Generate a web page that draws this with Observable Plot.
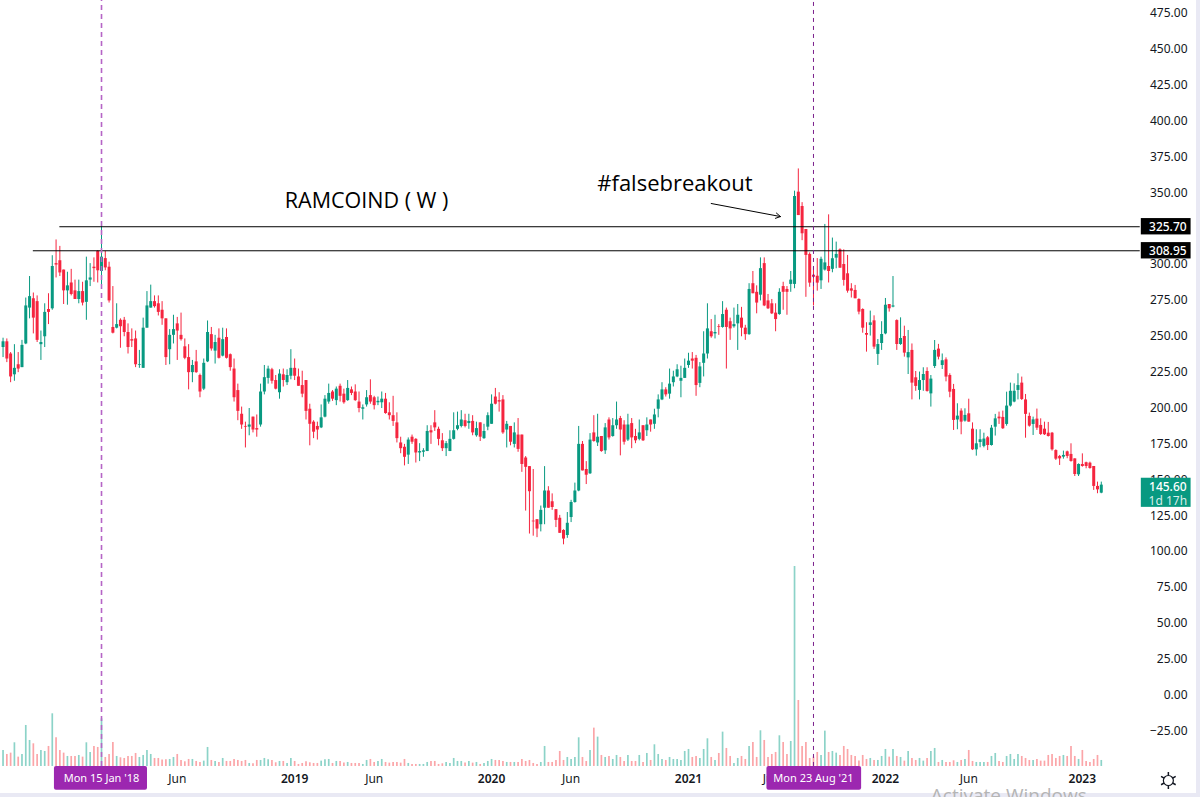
<!DOCTYPE html>
<html><head><meta charset="utf-8">
<script src="https://cdn.jsdelivr.net/npm/d3@7"></script>
<script src="https://cdn.jsdelivr.net/npm/@observablehq/plot@0.6"></script>
<style>
html,body{margin:0;padding:0;background:#e9e9f4;width:1200px;height:797px;overflow:hidden}
svg{display:block;overflow:visible;background:#fff}
</style></head><body><div id="chart"></div>
<script>
const firstWeek = "2017-07-17";
const open = [
241.5,245.5,237,222.5,229.5,227.5,244,269,275.5,273.5,
243.5,249,268,268.5,300,302,295.5,281,286.5,281,
275,280.5,273,288.5,297.5,308.5,294.5,303.5,297.5,255.5,
255,260.5,260.5,252,247,247.5,229,227,255,269,
273.5,272,267.5,261.5,240,250,258,250,242,234.5,
224,231.5,222,212.5,231.5,250.5,239,248,235.5,248.5,
236.5,226.5,211.5,195,186.5,186,193,185,187.5,210.5,
220,226,218.5,210,
222.5,217,221.5,227,221,215,218.5,198.5,189.5,186.5,
185.5,193,203.5,210.5,204.5,214.5,209,204.5,212,210.5,
203.5,198.5,201.5,208,206.5,203,203,205.5,196,194,
189,175,172,166.5,179,177.5,168,168.5,169,183.5,
189,184.5,176.5,171,169,177.5,184.5,186.5,190.5,188.5,
190,180,189,178,186,188,207,204.5,205,184,
186.5,174,180.5,180.5,164.5,158.5,120.5,121.5,118,129.5,
141.5,
134,128.5,122.5,114,110.5,123,133.5,141.5,174,156.5,
153.5,182,175,179.5,169.5,191,179.5,187,192,187.5,
177,188.5,179.5,177.5,187,183.5,191,188,198.5,205,
212,209,217,221,218,220,229,233.5,234,216.5,
230.5,237,252.5,251,256,255.5,267.5,259.5,256,258,
262,255,250.5,286,280,278,300,274,272,265.5,
264.5,284,282,285.5,
285.5,349.8,339.8,323.8,306.4,291.9,291.2,288,295.5,298,
296,303.8,309.6,299.4,292.9,282.4,281.3,275,268,251.3,
256.9,260.1,236.7,244.3,251,271.5,269.7,260.3,243.6,249.2,
234.3,239.5,220.4,211.6,218.5,224.8,209.2,228.3,240.4,229,
232.9,222,212.3,191,197.2,190.2,195.3,184.6,170.2,175.3,
172.6,178.6,173.2,186,193,192.8,187.9,200.7,203.5,211.6,
216.7,205,193.5,187.9,191.6,187.2,184.6,181.8,181.8,169.7,
165.6,165.1,168.8,167,163.9,152.8,160,161.2,160.9,158.6,
144.7,140];
const high = [
248,247.5,238,243.5,238,246.5,276,291,279.5,277.5,
253,272,279,305.5,316.5,312,295.5,294,296,288.5,
288.5,287,304.5,300,304,309,325.7,308.5,301,284,
272,261.5,262.5,258,254.5,253,239.5,262,280.5,285,
277.5,277.5,273.5,261.5,254,264,262.5,265.5,247.5,243.5,
232.5,239.5,223,233.5,260,255.5,250,254.5,255,254.5,
237,233.5,216,200,189.5,199,193,194.5,216,229,
228.5,227,222,226,
226.5,226,240,233.5,226.5,225,218.5,202,190.5,189.5,
201.5,208,216,211.5,214,216,212.5,218.5,214,215.5,
210.5,201.5,211.5,219,207.5,207,210.5,209.5,203,207.5,
196,179,174,178.5,180.5,178,174.5,171,187,187,
197.5,186,181.5,176,183.5,196,196.5,197.5,195,195,
194,189.5,189,188,196,208.5,213,210,208,190,
186.5,189,192,180.5,165.5,158.5,156.5,121.5,131,158.5,
144.5,
139.5,128.5,124.5,114.5,126.5,135,147,186.5,176,162,
181.5,194,195,179.5,188.5,192.5,192,203.5,193.5,190.5,
195,192,184.5,191,187,192.5,191,198.5,208.5,217,
213.5,226.5,225,229.5,228.5,233.5,237.5,238,236,231,
252.5,272,261,264,257.5,273.5,269,262,269,271.5,
269.5,257,286,294.5,284.5,304,304,278.5,275,272,
282.5,287,284,294.5,
350.5,366,342.5,323.8,307.5,297.5,303.5,304.5,327.3,334,
317.8,315,310.3,309.6,305.7,286,284.8,275.5,268.5,258.8,
266.9,263.6,247.1,259.5,275.7,271.5,291,260.8,262.2,256.4,
253.4,244,224.8,224.4,227.4,227.4,222,246.4,243.7,237,
234.3,223.2,215.8,202.3,198.8,198.8,205.5,189,184.2,184.2,
181.8,179.5,187.2,194.9,196.5,197.2,210.4,216.7,216.2,223.2,
220.9,208.8,195.8,193,198.6,191.8,189.5,189.3,182.3,170.2,
166.3,169.3,169.3,174.4,163.9,160.4,167.4,161.6,161.6,158.6,
147.7,147.7];
const low = [
234.5,231,217,218,224,227.5,243.5,261.5,251,245,
232.5,241.5,257.5,267.5,290,291,271.5,271,277.5,275,
272,270.5,260.5,284,287,286.5,282.5,295,272.5,251,
254.5,241,249,237,241.5,227.5,227,227,255,269,
269,263.5,257,229,229.5,244,232.5,246,233,212,
217,223.5,206.5,211.5,231,239,230,233.5,235,233.5,
225,203.5,190.5,184.5,171.5,180,182,179,186,208.5,
216,216,212,205.5,
214,215,219,218.5,214.5,206.5,191,173,178,177,
185,192.5,202,204,201,203.5,202,204,208,204,
196,191,200,202,198,201,199,195,191,186.5,
175,167.5,159,160,174,161,162,165,169,174,
183,173,169,165.5,169,177,183.5,185.5,185.5,184.5,
180,179,176,177.5,183.5,188,201.5,196.5,181,171.5,
173,171.5,168.5,154.5,127.5,111.5,110,109,113,118,
129.5,
128,116,112,104,108.5,119.5,133,141,155.5,146,
153,175.5,172.5,168.5,167,177,179,184.5,166,173.5,
176,171,174.5,176.5,176,179.5,182.5,184.5,192.5,204.5,
207,205.5,214,220.5,206.5,220,227,226.5,207.5,213.5,
221,233.5,248,247.5,250,255,226.5,246.5,255,239.5,
249,246.5,250,279,265,274,270,268,264.5,252.5,
264,267.5,264,280,
282.5,333.5,316,276.5,283.5,270.5,280.8,282,294.8,286.5,
293.6,296.4,296.8,284.3,279.4,276,275.5,264.3,251.5,238.3,
249.5,240.2,229,239.5,250.4,266.2,269.2,239.5,243,234.8,
222.7,205,211,205,211,210.4,200,226.9,232.9,226.2,
217.6,206.5,183.7,184.2,180.7,189.5,189.5,169.7,165.8,171.6,
171.6,169.7,172.8,179.8,187.9,184.4,186.7,200,203,205,
204.6,178.3,186,180.2,183.7,180.2,180.2,179.1,169.3,162.8,
159.3,163.7,164,161.6,151.6,151.6,158.1,157,156.7,141.9,
139.6,139.6];
const close = [
245.5,233.5,221,227,226.5,243,270.5,277,262,246.5,
245,266,266,298,299,293.5,281,284.5,278.5,275,
280.5,272.5,288,290,296.5,295,304.5,297,274,251.5,
257.5,256,252,241.5,246,229.5,229.5,255,270.5,273.5,
270,266,261.5,234.5,250,254,253,247,234,224,
229,224,210.5,230.5,252,240.5,245,234,247,234,
227.5,206.5,197,187.5,186,187.5,184,184,210.5,220.5,
226.5,218,212.5,223,
218.5,222,227,221.5,214.5,209,197,188,182.5,184,
192.5,205.5,209.5,205.5,212.5,207.5,203,213,209.5,204.5,
199,199.5,206.5,203.5,201,204,205.5,195.5,194,190,
178,171,165,177,175.5,168,169,169.5,183,182,
185.5,177.5,171,174.5,177.5,183.5,187,191,186.5,190,
182,185,179,183,194,202,202,203.5,182,188,
175.5,182,170.5,160,158,141,120,115,128,141.5,
129.5,
130,121,112,108,119,133.5,141.5,174,155.5,152.5,
177,176,179,169,185.5,178.5,187,191,184,175.5,
187.5,178.5,176.5,182,176.5,187.5,187.5,194.5,205,212,
208.5,216,221,226,220,227,232,232,215,228,
237,254.5,249,252,255.5,264.5,255.5,254.5,257.5,264,
255,250.5,282,279,272.5,296.5,270.5,268.5,265,261,
280,280,280,288.5,
346.8,333.5,320.8,305.7,286.4,290.5,286.4,303,300.5,294.5,
303.4,306.4,296.8,288.3,280.8,280.8,275.5,266.2,255,250.1,
258.7,241.8,243.6,250.6,271,268.5,270.5,243.6,247.8,237.6,
238,216.7,214.4,218.5,222.7,210.9,219.5,239.5,234.8,232.3,
220.9,210.4,190.7,193.7,189.5,194.2,189.5,170.2,174.4,177.2,
177.7,173.2,185.3,191.8,191.8,184.9,200.7,211,211,215,
205.3,194.9,186.7,191.1,185.3,180.9,180.7,179.5,170.2,163.7,
163.9,166.3,165.6,162.1,153,160,158.6,158.6,157.2,144.7,
142.3,145.6];
// volume in arbitrary units
const volume = [
48,36,40,71,28,36,123,78,68,36,48,45,60,158,86,48,40,30,30,30,33,28,71,42,60,57,
143,27,36,72,30,26,24,30,30,39,27,33,48,36,24,24,19,20,21,27,36,18,14,21,21,15,12,16,57,18,
15,12,24,15,15,21,18,15,18,9,8,18,18,24,20,18,11,15,15,9,24,15,6,9,14,11,9,9,16,20,
21,9,15,15,10,12,9,9,9,6,18,21,12,15,21,12,10,12,12,
10,21,9,6,6,6,6,12,15,15,6,8,12,9,24,15,15,10,15,10,12,6,9,15,21,18,18,15,12,12,12,12,21,15,18,9,6,12,
60,12,12,18,45,18,27,21,27,86,27,15,48,115,88,33,27,30,21,33,27,15,33,15,15,33,12,39,18,65,36,21,18,27,21,21,18,
45,51,27,30,24,51,83,27,18,39,103,54,30,9,24,30,21,60,72,27,107,78,27,36,42,92,72,36,75,600,198,
60,72,24,28,42,33,106,42,45,40,33,60,51,33,30,16,33,21,24,18,18,30,51,28,51,30,27,16,45,24,18,24,16,24,45,54,
12,18,12,12,17,12,18,21,48,15,12,12,12,12,30,39,15,12,30,36,21,36,30,24,18,18,21,16,16,33,36,24,30,33,30,60,30,21,48,15,12,21,33,18];
const priceTicks = [475,450,425,400,375,350,325,300,275,250,225,200,175,150,125,100,75,50,25,0,-25];
const monthTicks = ["2018-06-04","2019-06-03","2020-06-01","2021-06-07","2022-06-06"];
const yearTicks = [["2019-01-07","2019"],["2020-01-06","2020"],["2021-01-04","2021"],["2022-01-03","2022"],["2023-01-02","2023"]];
const levels = [{v:325.7,from:"2017-10-30",to:"2023-04-19"},{v:308.95,from:"2017-09-11",to:"2023-04-19"}];
const markers = [{d:"2018-01-15",label:"Mon 15 Jan '18",from:"2017-10-20",to:"2018-04-10",color:"#b565c6",w:1.6,dash:"5,4"},{d:"2021-08-23",label:"Mon 23 Aug '21",from:"2021-05-29",to:"2021-11-20",color:"#7b1f8c",w:1,dash:"4,4"}];
const lastPrice = 145.6, countdown = "1d 17h";

const GREEN="#089981", RED="#f5253f", GREEN_V="#8cd3c8", RED_V="#fba5a8", INK="#131722", PURPLE="#9c27b0";
const D = s => new Date(s+"T00:00:00Z");
const start = D(firstWeek);
const bars = open.map((o,i)=>({date:d3.utcDay.offset(start,i*7),o,h:high[i],l:low[i],c:close[i],vol:volume[i],up:close[i]>=o}));
const VOL_BASE=-50.5, VOL_K=0.2323;
const tagL=D("2023-04-21"), tagR=D("2023-07-22"), tagC=D("2023-06-09");
const FONT='"Noto Sans",sans-serif';

const plot = Plot.plot({
  width:1196,height:793,margin:0,
  style:{fontFamily:FONT,fontSize:"12px",background:"#fff",overflow:"visible"},
  x:{type:"utc",domain:[new Date(Date.UTC(2017,6,12,7)),D("2023-08-01")],range:[0,1196],axis:null},
  y:{domain:[-69.35,483.4],range:[793,0],axis:null},
  marks:[
    Plot.ruleX(bars,{x:"date",y1:()=>VOL_BASE,y2:d=>VOL_BASE+d.vol*VOL_K,stroke:d=>d.up?GREEN_V:RED_V,strokeWidth:1.7}),
    Plot.ruleX(bars,{x:"date",y1:"l",y2:"h",stroke:d=>d.up?GREEN:RED,strokeWidth:1}),
    Plot.ruleX(bars,{x:"date",y1:"o",y2:"c",stroke:d=>d.up?GREEN:RED,strokeWidth:3}),
    Plot.ruleY(levels,{y:"v",x1:d=>D(d.from),x2:d=>D(d.to),stroke:"#000",strokeWidth:1}),
    Plot.ruleX([markers[0]],{x:d=>D(d.d),y1:()=>-50.5,y2:()=>483.4,stroke:d=>d.color,strokeWidth:markers[0].w,strokeDasharray:markers[0].dash}),
    Plot.ruleX([markers[1]],{x:d=>D(d.d),y1:()=>-50.5,y2:()=>483.4,stroke:d=>d.color,strokeWidth:markers[1].w,strokeDasharray:markers[1].dash}),
    Plot.axisY(priceTicks,{anchor:"right",tickSize:0,tickPadding:0,dx:-9,dy:1,textAnchor:"end",fill:INK,fontSize:12,
      tickFormat:d=>(d<0?"\u2212"+Math.abs(d).toFixed(2):d.toFixed(2))}),
    Plot.text(monthTicks,{x:d=>D(d),y:()=>-59.5,text:()=>"Jun",fill:INK,fontSize:12}),
    Plot.text(yearTicks,{x:d=>D(d[0]),y:()=>-59.5,text:d=>d[1],fill:INK,fontSize:12,fontWeight:600}),
    Plot.rect(levels,{x1:()=>tagL,x2:()=>tagR,y1:d=>d.v-5.7,y2:d=>d.v+5.7,fill:"#000"}),
    Plot.text(levels,{x:()=>tagC,y:"v",text:d=>d.v.toFixed(2),fill:"#fff",fontSize:12,fontWeight:500}),
    Plot.rect([lastPrice],{x1:()=>tagL,x2:()=>tagR,y1:()=>130.1,y2:()=>150.4,fill:GREEN}),
    Plot.text([lastPrice],{x:()=>tagC,y:d=>d,dy:2,text:d=>d.toFixed(2),fill:"#fff",fontSize:12,fontWeight:500}),
    Plot.text([countdown],{x:()=>tagC,y:()=>lastPrice,dy:16,text:d=>d,fill:"#fff",fillOpacity:.85,fontSize:12}),
    Plot.rect(markers,{x1:d=>D(d.from),x2:d=>D(d.to),y1:()=>-50.5,y2:()=>-67,fill:PURPLE,rx:2}),
    Plot.text(markers,{x:d=>D(d.d),y:()=>-59,text:"label",fill:"#fff",fontSize:11}),
    Plot.text(["RAMCOIND ( W )"],{x:()=>D("2019-05-20"),y:()=>343.5,text:d=>d,fill:"#000",fontSize:21.5,fontFamily:'"Open Sans",sans-serif',letterSpacing:.5}),
    Plot.text(["#falsebreakout"],{x:()=>D("2020-12-10"),y:()=>355.8,text:d=>d,fill:"#000",fontSize:22,fontFamily:'"Open Sans",sans-serif'}),
    Plot.arrow([0],{x1:()=>D("2021-02-15"),y1:()=>341.9,x2:()=>D("2021-06-23"),y2:()=>332.8,bend:0,stroke:"#000",strokeWidth:1,headLength:8}),
    Plot.dot([0],{x:()=>D("2023-06-10"),y:()=>-60.3,symbol:"asterisk",r:8,stroke:INK,strokeWidth:1.5}),
    Plot.dot([0],{x:()=>D("2023-06-10"),y:()=>-60.3,r:5,fill:"#fff",stroke:INK,strokeWidth:1.2}),
    Plot.text(["Activate Windows"],{x:()=>D("2022-08-19"),y:()=>-69.35,dy:2,text:d=>d,fill:"#b5b5b5",fontSize:19,fontFamily:'"Open Sans",sans-serif'})
  ]
});
document.getElementById("chart").appendChild(plot);
</script></body></html>
